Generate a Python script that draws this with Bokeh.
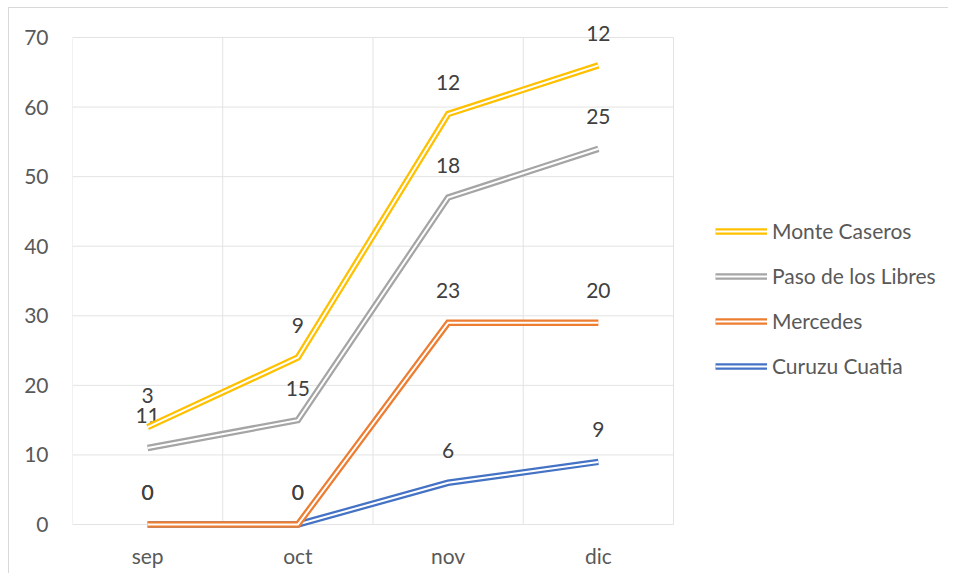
import numpy as np
from bokeh.plotting import figure
from bokeh.models import Range1d, FixedTicker, Legend, LegendItem
from bokeh.core.properties import value
from bokeh.embed import file_html
from bokeh.resources import INLINE

# ---- data ----
months = ["sep", "oct", "nov", "dic"]
curuzu_cuatia = [0, 0, 6, 9]
mercedes = [0, 0, 23, 20]
paso_de_los_libres = [11, 15, 18, 25]
monte_caseros = [3, 9, 12, 12]
series_names = ["Curuzu Cuatia", "Mercedes", "Paso de los Libres", "Monte Caseros"]
series_values = [curuzu_cuatia, mercedes, paso_de_los_libres, monte_caseros]
colors = ["#4472C4", "#ED7D31", "#A5A5A5", "#FFC000"]
y_ticks = [0, 10, 20, 30, 40, 50, 60, 70]

FONT = "Lato"
FS = "21px"

n = len(months)
x_pos = [i + 0.5 for i in range(n)]
x_bounds = list(range(n + 1))
y_max = y_ticks[-1]

p = figure(width=940, height=566, x_range=Range1d(0, 5.837),
           y_range=Range1d(-0.575, 73.45), output_backend="svg", toolbar_location=None,
           min_border_left=63, min_border_right=0, min_border_top=5,
           min_border_bottom=46,
           styles={"margin-left": "8px", "margin-top": "7px",
                   "border-top": "1px solid #D9D9D9", "border-left": "1px solid #D9D9D9"})
p.outline_line_color = None
p.background_fill_color = "white"
p.xgrid.visible = False
p.ygrid.visible = False

# gridlines limited to the chart area
grid_col = "#E3E3E3"
p.segment(x0=x_bounds, y0=[0] * len(x_bounds), x1=x_bounds, y1=[y_max] * len(x_bounds),
          line_color=grid_col, line_width=1)
p.segment(x0=[0] * len(y_ticks), y0=y_ticks, x1=[n] * len(y_ticks), y1=y_ticks,
          line_color=grid_col, line_width=1)

# axes
p.xaxis.ticker = FixedTicker(ticks=x_pos)
p.xaxis.major_label_overrides = {x: m for x, m in zip(x_pos, months)}
p.yaxis.ticker = FixedTicker(ticks=y_ticks)
for ax in (p.xaxis[0], p.yaxis[0]):
    ax.axis_line_color = None
    ax.major_tick_line_color = None
    ax.minor_tick_line_color = None
    ax.major_tick_out = 0
    ax.major_tick_in = 0
    ax.major_label_text_font = FONT
    ax.major_label_text_font_size = FS
    ax.major_label_text_color = "#595959"
p.yaxis.major_label_standoff = 24
p.xaxis.major_label_standoff = 14

# stacked lines
cum = np.zeros(n)
items = []
for name, vals, col in zip(series_names, series_values, colors):
    cum = cum + np.array(vals)
    r1 = p.line(x_pos, list(cum), line_color=col, line_width=6.5, line_join="miter")
    r2 = p.line(x_pos, list(cum), line_color="white", line_width=2, line_join="miter")
    p.text(x_pos, list(cum), text=[str(v) for v in vals], text_align="center",
           text_baseline="alphabetic", y_offset=-32, text_font=value(FONT),
           text_font_size=FS, text_color="#404040")
    items.append(LegendItem(label=name, renderers=[r1, r2]))

legend = Legend(items=list(reversed(items)), location=(643, 150),
                glyph_width=52, glyph_height=20, label_height=20,
                label_standoff=5, spacing=20, padding=0, margin=0,
                border_line_color=None, background_fill_alpha=0,
                label_text_font=FONT, label_text_font_size=FS,
                label_text_color="#595959")
p.add_layout(legend, "center")

open("out.html", "w").write(file_html(p, INLINE))
